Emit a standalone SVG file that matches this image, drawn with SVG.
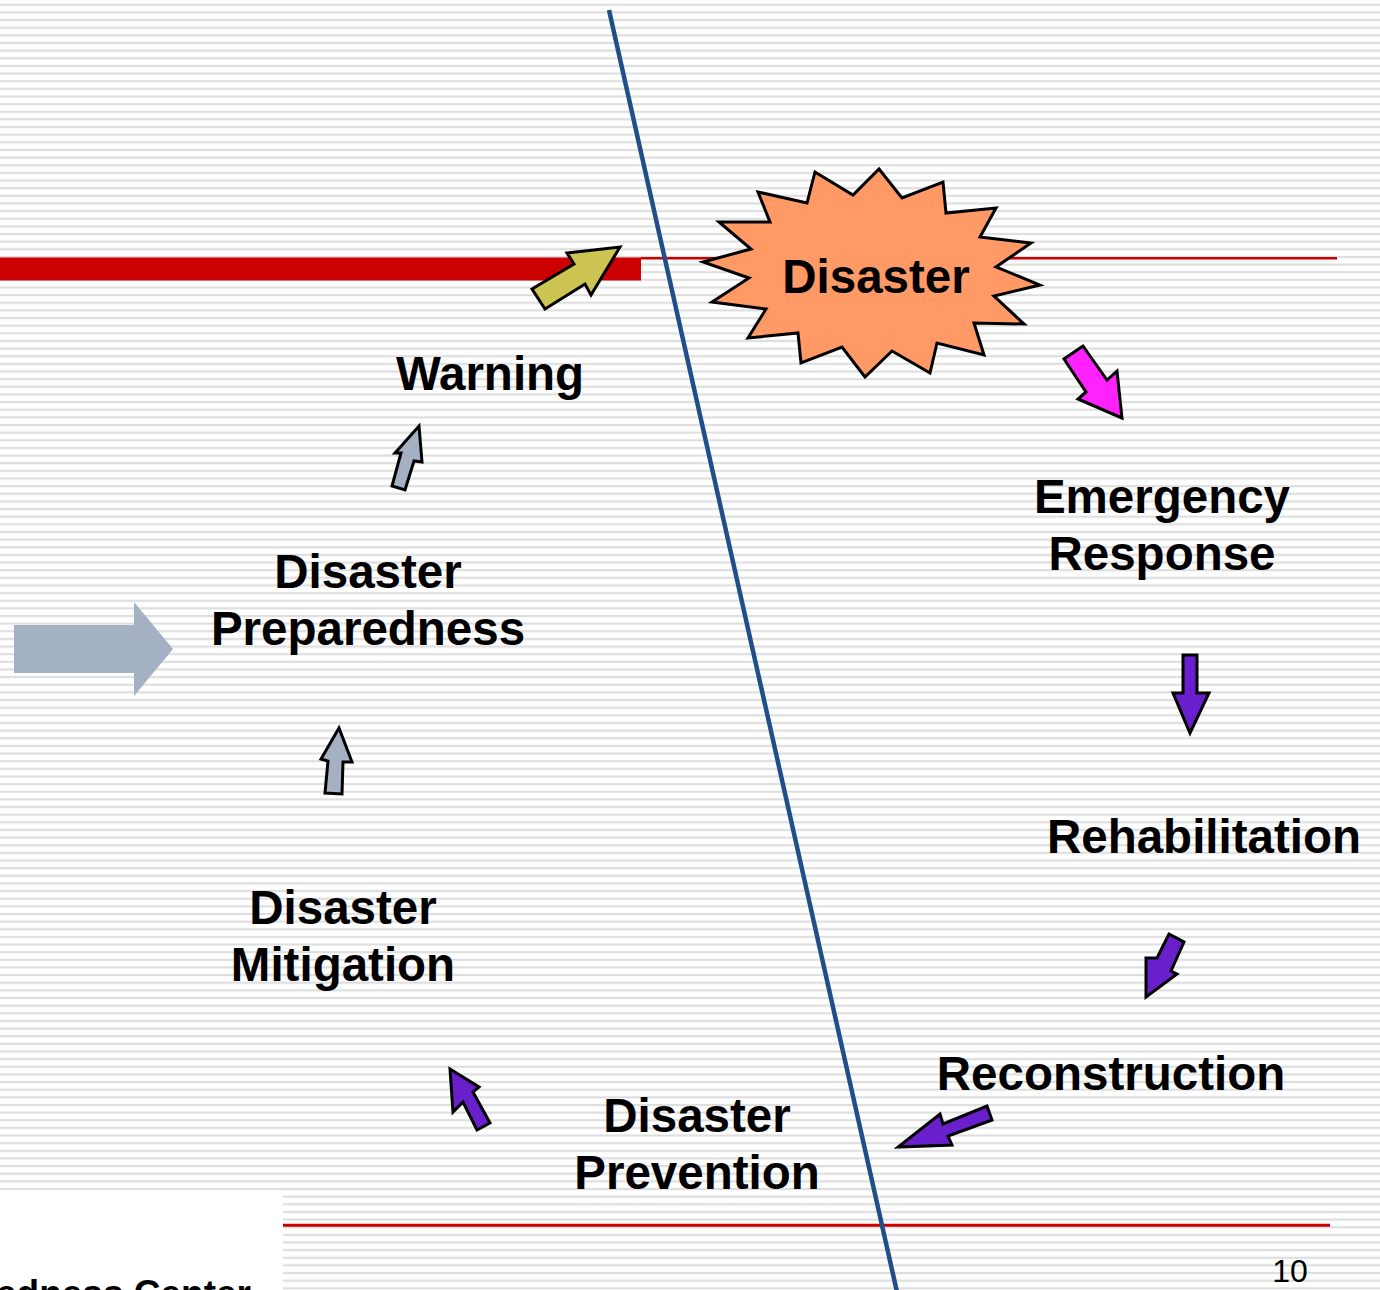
<svg xmlns="http://www.w3.org/2000/svg" width="1380" height="1290" viewBox="0 0 1380 1290">
  <defs>
    <pattern id="ruled" patternUnits="userSpaceOnUse" width="1380" height="7.64">
      <rect x="0" y="3.7" width="1380" height="2.2" fill="#dedede"/>
    </pattern>
    <style>
      .label { font-family: "Liberation Sans", Arial, sans-serif; font-weight: bold; font-size: 47.5px; fill: #000; text-anchor: middle; }
      .blk { stroke: #000; stroke-width: 3; stroke-linejoin: miter; }
      .grey { fill: #a3b1c2; }
      .purple { fill: #6a1fcc; }
    </style>
  </defs>

  <!-- ruled page background -->
  <rect x="0" y="0" width="1380" height="1290" fill="#ffffff"/>
  <rect x="0" y="0" width="1380" height="1290" fill="url(#ruled)"/>

  <!-- footer logo strip -->
  <g id="footer-logo">
    <rect x="0" y="1190" width="283" height="100" fill="#ffffff"/>
    <text x="251" y="1306" font-family="Liberation Sans, Arial, sans-serif" font-weight="bold" font-size="37" text-anchor="end" fill="#000">Preparedness Center</text>
  </g>

  <!-- timeline rules -->
  <g id="rules">
    <rect x="0" y="257.5" width="641" height="23" fill="#cc0000"/>
    <line x1="641" y1="258.3" x2="1337" y2="258.3" stroke="#cc0000" stroke-width="2.4"/>
    <line x1="283" y1="1225.3" x2="1330" y2="1225.3" stroke="#cc0000" stroke-width="3"/>
  </g>

  <!-- before / after divider -->
  <g id="divider">
    <line x1="609" y1="10" x2="897" y2="1292" stroke="#1f4e89" stroke-width="4.5"/>
  </g>

  <!-- disaster burst -->
  <g id="node-disaster">
    <polygon fill="#ff9966" stroke="#000" stroke-width="3" stroke-linejoin="miter"
      points="879,169 902,198 943,182 946,213 996,208 980,237 1031,243 996,267 1040,285 994,296 1024,324 974,323 984,355 937,343 930,373 892,351 865,377 842,347 801,363 798,333 748,338 766,309 712,302 749,278 703,262 751,249 719,222 770,222 758,192 807,203 815,172 853,195"/>
    <text class="label" x="876" y="293">Disaster</text>
  </g>

  <!-- stage labels -->
  <g id="node-warning"><text class="label" x="490" y="390">Warning</text></g>
  <g id="node-preparedness">
    <text class="label" x="368" y="588">Disaster</text>
    <text class="label" x="368" y="645">Preparedness</text>
  </g>
  <g id="node-mitigation">
    <text class="label" x="343" y="924">Disaster</text>
    <text class="label" x="343" y="981">Mitigation</text>
  </g>
  <g id="node-prevention">
    <text class="label" x="697" y="1132">Disaster</text>
    <text class="label" x="697" y="1189">Prevention</text>
  </g>
  <g id="node-emergency">
    <text class="label" x="1162" y="513">Emergency</text>
    <text class="label" x="1162" y="570">Response</text>
  </g>
  <g id="node-rehabilitation"><text class="label" x="1204" y="853">Rehabilitation</text></g>
  <g id="node-reconstruction"><text class="label" x="1111" y="1090">Reconstruction</text></g>

  <!-- cycle arrows -->
  <g id="connectors">
    <!-- entry arrow -->
    <polygon class="grey" points="14,625 134,625 134,602 173,649 134,696 134,673 14,673"/>
    <!-- mitigation -> preparedness -->
    <polygon class="grey blk" points="339,728 352,762 343,762 342,794 325,793 328,761 321,759"/>
    <!-- preparedness -> warning -->
    <polygon class="grey blk" points="419,426 422,462 414,461 405,490 392,486 401,453 395,453"/>
    <!-- warning -> disaster -->
    <polygon class="blk" fill="#cdc551" points="620,247 591,295 585,284 545,309 532,289 574,264 567,253"/>
    <!-- disaster -> emergency response -->
    <polygon class="blk" fill="#ff22ff" points="1083,346 1107,380 1117,371 1122,418 1078,399 1086,392 1064,359"/>
    <!-- emergency response -> rehabilitation -->
    <polygon class="purple blk" points="1183,655 1197,655 1197,693 1209,693 1190,733 1173,693 1183,693"/>
    <!-- rehabilitation -> reconstruction -->
    <polygon class="purple blk" points="1184,942 1171,971 1177,974 1146,997 1146,958 1157,958 1169,934"/>
    <!-- reconstruction -> prevention -->
    <polygon class="purple blk" points="987,1106 992,1120 948,1136 952,1145 898,1147 940,1114 943,1124"/>
    <!-- prevention -> mitigation -->
    <polygon class="purple blk" points="450,1069 479,1087 473,1092 490,1123 477,1130 463,1102 453,1112"/>
  </g>

  <!-- page number -->
  <text x="1290" y="1282" font-family="Liberation Sans, Arial, sans-serif" font-size="32" text-anchor="middle" fill="#000">10</text>
</svg>
